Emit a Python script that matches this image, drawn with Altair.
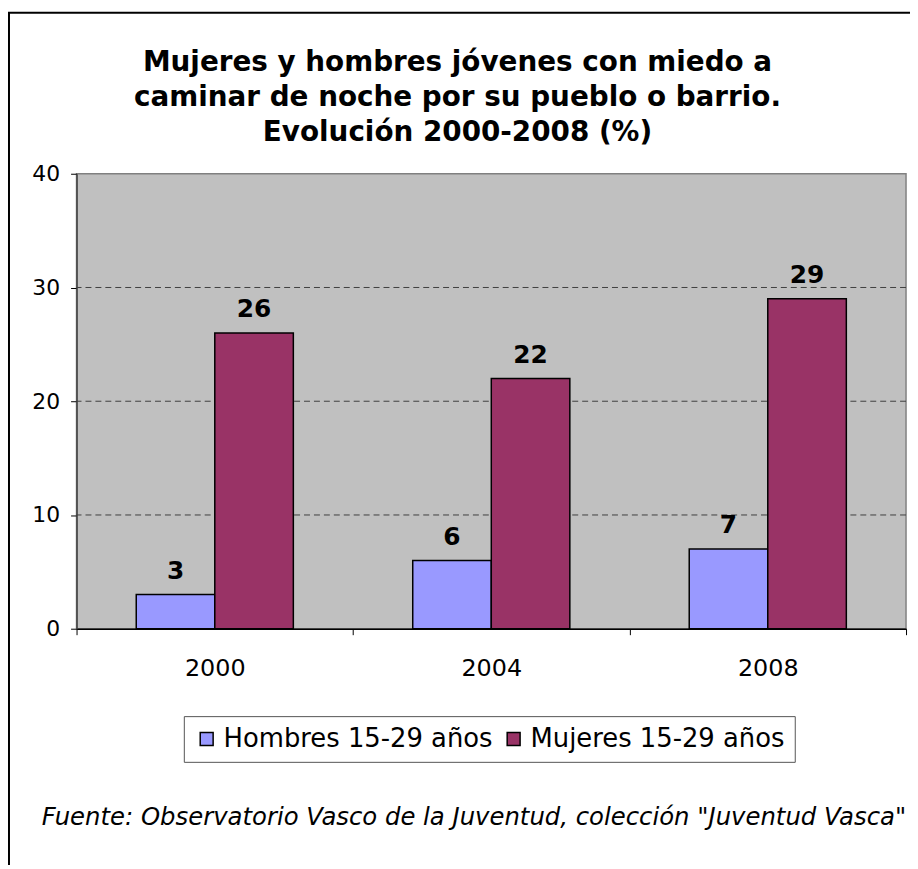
import altair as alt
import pandas as pd

# ---- data ----
years = ["2000", "2004", "2008"]
series = ["Hombres 15-29 años", "Mujeres 15-29 años"]
hombres = [3, 6, 7]
mujeres = [26, 22, 29]
grid_values = [10, 20, 30]
y_ticks = [0, 10, 20, 30, 40]
colors = ["#9999FF", "#993366"]
title_lines = [
    "Mujeres y hombres jóvenes con miedo a",
    "caminar de noche por su pueblo o barrio.",
    "Evolución 2000-2008 (%)",
]
source_note = 'Fuente: Observatorio Vasco de la Juventud, colección "Juventud Vasca"'

rows = []
for i, yr in enumerate(years):
    rows.append({"year": yr, "serie": series[0], "value": hombres[i]})
    rows.append({"year": yr, "serie": series[1], "value": mujeres[i]})
df = pd.DataFrame(rows)

W, H = 835, 458
FONT = "DejaVu Sans"

xscale = alt.Scale(domain=years, paddingInner=0, paddingOuter=0)
yscale = alt.Scale(domain=[0, 40], nice=False)

y_axis = alt.Axis(
    title=None, values=y_ticks, grid=False, labelFont=FONT,
    labelFontSize=22, labelColor="black", domainColor="#404040",
    domainWidth=1.5, tickColor="black", tickSize=6, labelPadding=11,
)

base = alt.Chart(df).encode(
    x=alt.X(
        "year:N",
        scale=xscale,
        sort=years,
        axis=alt.Axis(
            title=None, labelAngle=0, labelFont=FONT, labelFontSize=24,
            labelColor="black", domainColor="black", domainWidth=1.5,
            tickColor="black", tickSize=6, tickBand="extent", labelPadding=22,
        ),
    ),
    xOffset=alt.XOffset("serie:N", sort=series,
                        scale=alt.Scale(paddingInner=0, paddingOuter=0.76)),
    y=alt.Y("value:Q", scale=yscale, axis=y_axis),
)

bars = base.mark_bar(stroke="black", strokeWidth=1.5).encode(
    color=alt.Color(
        "serie:N",
        sort=series,
        scale=alt.Scale(domain=series, range=colors),
        legend=alt.Legend(
            orient="none", legendX=108, legendY=546, direction="horizontal",
            title=None, labelFont=FONT, labelFontSize=26, labelColor="black",
            symbolType="square", symbolSize=169, symbolStrokeColor="black",
            symbolStrokeWidth=1.5, strokeColor="#555555", fillColor="white",
            padding=10, columnPadding=8, labelOffset=4, labelLimit=600,
        ),
    )
)

labels = base.mark_text(
    font=FONT, fontWeight="bold", fontSize=25, baseline="bottom", dy=-11,
    color="black",
).encode(text="value:Q")

grid = alt.Chart(pd.DataFrame({"value": grid_values})).mark_rule(
    strokeDash=[6, 4], color="#404040", strokeWidth=1
).encode(y=alt.Y("value:Q", scale=yscale, axis=y_axis))

note = alt.Chart(pd.DataFrame({"t": [source_note]})).mark_text(
    font=FONT, fontStyle="italic", fontSize=24.5, color="black",
    align="center", baseline="middle",
).encode(text="t:N", x=alt.value(400), y=alt.value(649))

frame_left = alt.Chart(pd.DataFrame({"a": [0]})).mark_rule(
    color="black", strokeWidth=2
).encode(x=alt.value(-68), y=alt.value(-162), y2=alt.value(700))
frame_top = alt.Chart(pd.DataFrame({"a": [0]})).mark_rule(
    color="black", strokeWidth=2
).encode(x=alt.value(-69), x2=alt.value(W + 20), y=alt.value(-162))

chart = alt.layer(grid, bars, labels, note, frame_left, frame_top).properties(
    width=W,
    height=H,
    autosize=alt.AutoSizeParams(type="none"),
    padding={"left": 69, "top": 164, "right": 4, "bottom": 235},
    title=alt.TitleParams(
        text=title_lines, font=FONT, fontSize=28, fontWeight="bold",
        color="black", anchor="middle", frame="group",
        lineHeight=35, offset=-136, dx=-34,
    ),
).configure_view(fill="#C0C0C0", stroke="#808080", strokeWidth=1.5)

chart.save("out.html", embed_options={"renderer": "svg", "actions": False})
